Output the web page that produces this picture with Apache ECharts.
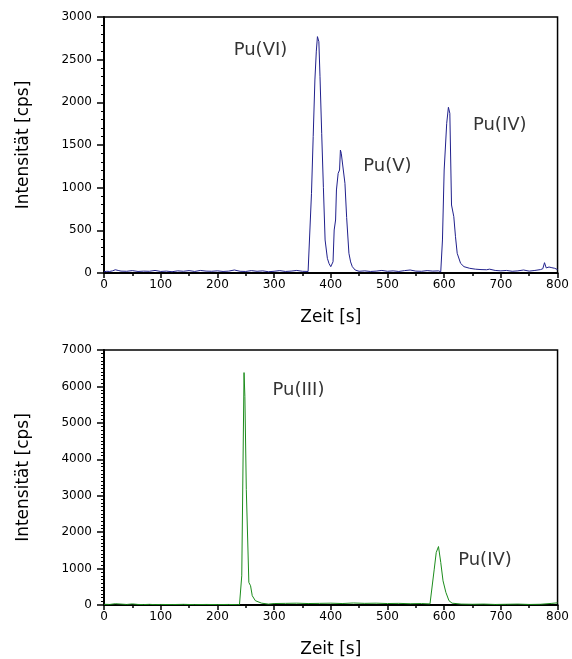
<!DOCTYPE html>
<html><head><meta charset="utf-8">
<script src="https://cdn.jsdelivr.net/npm/echarts@6/dist/echarts.min.js"></script>
<style>html,body{margin:0;padding:0;background:#fff}#c{width:572px;height:659px}</style>
</head><body><div id="c"></div>
<script>
// Top chromatogram (blue)
const topTime = [0,5,10,15,20,25,30,40,50,60,70,80,90,100,110,120,130,140,150,160,170,180,190,200,210,220,230,240,250,260,270,280,290,300,310,320,330,340,350,360,363,366,369,372,374.5,376.5,379,381,384,387,390,394,397,400,404,406,408.5,410,413,415.5,417,418.5,421,425,428,432,435,438,443,450,460,470,480,490,500,510,520,530,540,550,560,570,580,590,594,597,600,604.5,607.5,610,613,617,620,623,629,635,645,655,665,675,680,690,700,710,720,730,740,750,760,770,774,777,780,785,790,795,800];
const topCps = [15,20,18,25,38,30,22,20,28,18,22,20,30,18,22,15,25,20,28,18,30,22,20,25,18,22,35,20,18,28,20,25,15,20,28,18,22,30,20,18,20,934,1600,2262,2600,2770,2711,2300,1637,1000,387,172,110,74,132,504,621,973,1168,1207,1441,1403,1403,1051,650,231,130,74,35,20,25,18,22,30,20,25,18,28,35,22,20,28,22,25,15,387,1207,1754,1942,1871,797,660,425,231,113,74,55,45,40,38,45,30,25,30,20,25,35,22,30,40,50,121,60,70,62,55,40];
// Bottom chromatogram (green)
const botTime = [0,10,20,30,40,50,60,70,80,90,100,120,140,160,180,200,220,235,239,243,247,248.5,251,255.5,258.5,261.5,267,278,290,300,320,340,360,380,400,420,440,460,480,500,520,540,560,575,578,582.5,586,590,594,598,603,605,608.5,614,630,650,670,690,710,730,750,770,790,800];
const botCps = [20,15,35,25,15,30,15,12,18,10,15,12,18,10,15,12,15,10,12,801,6380,5727,3172,620,528,254,118,50,25,40,45,50,40,45,50,40,55,45,50,40,45,35,40,30,27,984,1440,1605,1167,664,347,300,118,50,25,20,25,15,20,25,15,20,45,60];
// Peak annotations [time, cps, text]
const topLabels = [[276,2610,'Pu(VI)'],[500,1250,'Pu(V)'],[698,1734,'Pu(IV)']];
const botLabels = [[343,5906,'Pu(III)'],[672,1230,'Pu(IV)']];

const FONT = 'DejaVu Sans';
function xAx(gi){
  return {type:'value', gridIndex:gi, min:0, max:800, interval:100,
    name:'Zeit [s]', nameLocation:'middle', nameGap:36,
    nameTextStyle:{fontFamily:FONT, fontSize:17, color:'#000'},
    axisLine:{show:true, lineStyle:{color:'#000', width:2}},
    axisTick:{show:true, length:5, lineStyle:{color:'#000', width:1.5}},
    minorTick:{show:true, splitNumber:2, length:3, lineStyle:{color:'#000', width:1.5}},
    splitLine:{show:false},
    axisLabel:{fontFamily:FONT, fontSize:12, color:'#000', margin:6, formatter:v=>String(v)}};
}
function yAx(gi, max, interval, minorN){
  return {type:'value', gridIndex:gi, min:0, max:max, interval:interval,
    name:'Intensität [cps]', nameLocation:'middle', nameGap:72, nameRotate:90,
    nameTextStyle:{fontFamily:FONT, fontSize:17, color:'#000'},
    axisLine:{show:true, lineStyle:{color:'#000', width:2}},
    axisTick:{show:true, length:7, lineStyle:{color:'#000', width:1.5}},
    minorTick:{show:true, splitNumber:minorN, length:3, lineStyle:{color:'#000', width:1}},
    splitLine:{show:false},
    axisLabel:{fontFamily:FONT, fontSize:12, color:'#000', margin:12, formatter:v=>String(v)}};
}
function pairs(a,b){return a.map((t,i)=>[t,b[i]]);}
function labelSeries(gi, arr){
  return {type:'scatter', xAxisIndex:gi, yAxisIndex:gi, symbolSize:0, silent:true,
    data:arr.map(d=>({value:[d[0],d[1]], name:d[2]})),
    label:{show:true, position:'inside', formatter:p=>p.name, fontFamily:FONT, fontSize:18, color:'#000'}};
}
const chart = echarts.init(document.getElementById('c'), null, {renderer:'canvas'});
chart.setOption({
  animation:false,
  backgroundColor:'#fff',
  grid:[
    {left:104, top:17, width:457, height:256, show:true, borderColor:'#000', borderWidth:1.5, backgroundColor:'transparent'},
    {left:104, top:350, width:457, height:256, show:true, borderColor:'#000', borderWidth:1.5, backgroundColor:'transparent'}
  ],
  xAxis:[xAx(0), xAx(1)],
  yAxis:[yAx(0,3000,500,5), yAx(1,7000,1000,10)],
  series:[
    {type:'line', xAxisIndex:0, yAxisIndex:0, data:pairs(topTime,topCps), showSymbol:false,
     lineStyle:{color:'#20208c', width:1}, itemStyle:{color:'#20208c'}},
    {type:'line', xAxisIndex:1, yAxisIndex:1, data:pairs(botTime,botCps), showSymbol:false,
     lineStyle:{color:'#1c8c1c', width:1}, itemStyle:{color:'#1c8c1c'}},
    labelSeries(0, topLabels),
    labelSeries(1, botLabels)
  ]
});
</script></body></html>
